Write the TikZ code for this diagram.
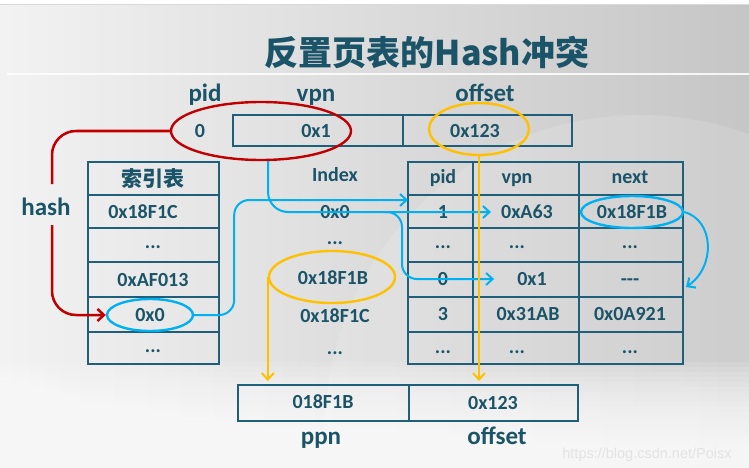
\documentclass[tikz,border=0pt]{standalone}
\usepackage{fontspec}
\setmainfont{Carlito}
\setsansfont{Liberation Sans}
\newfontfamily\cjk{Noto Sans CJK SC}
\usetikzlibrary{shapes.geometric,arrows.meta,calc}
\definecolor{textc}{HTML}{1B5468}
\definecolor{linec}{HTML}{1F5F7A}
\definecolor{redc}{HTML}{C00000}
\definecolor{bluec}{HTML}{00B0F0}
\definecolor{yellc}{HTML}{FFC000}
\begin{document}
\begin{tikzpicture}[x=1pt,y=-1pt,
  val/.style={font=\bfseries\fontsize{20}{24}\selectfont, text=textc, inner sep=0pt, text height=13pt, text depth=0pt},
  big/.style={font=\bfseries\fontsize{25}{30}\selectfont, text=textc, inner sep=0pt, text height=16pt, text depth=0pt},
  cjkval/.style={font=\cjk\bfseries\fontsize{21}{24}\selectfont, text=textc, inner sep=0pt},
  grid/.style={draw=linec, line width=2.2pt},
  ring/.style={ellipse, draw, line width=2.4pt, inner sep=0pt},
  redline/.style={draw=redc, line width=2.5pt},
  blueline/.style={draw=bluec, line width=2pt},
  yellline/.style={draw=yellc, line width=2pt},
  tip/.style={-{Straight Barb[length=6.5pt,width=12pt]}}
]
\useasboundingbox (0,0) rectangle (749,468);
% ---------- background ----------
\fill[white] (0,0) rectangle (749,468);
\shade[left color=gray!10, right color=gray!45] (0,6) rectangle (749,468);
\fill[white, opacity=0.14] (640,430) circle (315);
\foreach \i in {0,...,17}{
  \fill[white, opacity=0.11] (0,{362+\i*5}) rectangle (749,468);
}
\draw[gray!30, line width=1pt] (0,5) -- (749,5);
\draw[white, opacity=0.85, line width=1.5pt] (7,74) -- (749,74);
% ---------- title ----------
\node[font=\cjk\bfseries\fontsize{34}{38}\selectfont, text=textc, inner sep=0pt] (title) at (427,52) {反置页表的Hash冲突};
% ---------- top address ----------
\node[big] (lpid) at (205,94) {pid};
\node[big] (lvpn) at (316,94) {vpn};
\node[big] (loff) at (485,94) {offset};
\draw[grid] (233,115) rectangle (572,146);
\draw[grid] (403,115) -- (403,146);
% ---------- index table grid ----------
\draw[grid] (88,162) rectangle (219,364);
\foreach \y in {195,228,262,297,332}{\draw[grid] (88,\y) -- (219,\y);}
% ---------- inverted table grid ----------
\draw[grid] (408,162) rectangle (683,364);
\foreach \y in {195,228,262,297,332}{\draw[grid] (408,\y) -- (683,\y);}
\draw[grid] (473,162) -- (473,364);
\draw[grid] (579,162) -- (579,364);
% ---------- bottom address ----------
\draw[grid] (238,385) rectangle (578,421);
\draw[grid] (409,385) -- (409,421);
% ---------- ellipses ----------
\node[ring, draw=redc, minimum width=180pt, minimum height=58pt] (redell) at (261,131) {};
\node[ring, draw=yellc, minimum width=100pt, minimum height=52pt] (yellT) at (479,129) {};
\node[ring, draw=bluec, minimum width=86pt, minimum height=32pt] (blueI) at (150,315) {};
\node[ring, draw=bluec, minimum width=102pt, minimum height=32pt] (blueN) at (632,212) {};
\node[ring, draw=yellc, minimum width=126pt, minimum height=52pt] (yellI) at (332,277) {};
% ---------- texts ----------
\node[val] (t0) at (200,131) {0};
\node[val] (t1) at (316,131) {0x1};
\node[val] (t2) at (475,131) {0x123};
\node[big] (hash) at (46,207) {hash};
% index table
\node[cjkval] (it0) at (153,178.5) {索引表};
\node[val] (it1) at (143,211.5) {0x18F1C};
\node[val] (it2) at (153,242) {...};
\node[val] (it3) at (153,279.5) {0xAF013};
\node[val] (it4) at (150,315) {0x0};
\node[val] (it5) at (153,346) {...};
% index column
\node[val] (ix0) at (335,175) {Index};
\node[val] (ix1) at (335,212) {0x0};
\node[val] (ix2) at (335,238) {...};
\node[val] (ix3) at (333,278) {0x18F1B};
\node[val] (ix4) at (335,316) {0x18F1C};
\node[val] (ix5) at (335,348) {...};
% inverted table
\node[val] (ph) at (443,177) {pid};
\node[val] (vh) at (517,177) {vpn};
\node[val] (nh) at (630,177) {next};
\node[val] (p1) at (443,212) {1};
\node[val] (v1) at (527,212) {0xA63};
\node[val] (n1) at (632,212) {0x18F1B};
\node[val] (p2) at (443,242) {...};
\node[val] (v2) at (517,242) {...};
\node[val] (n2) at (630,242) {...};
\node[val] (p3) at (443,279) {0};
\node[val] (v3) at (532,279) {0x1};
\node[val] (n3) at (630,279) {-{}-{}-};
\node[val] (p4) at (443,314) {3};
\node[val] (v4) at (528,314) {0x31AB};
\node[val] (n4) at (630,314) {0x0A921};
\node[val] (p5) at (443,347) {...};
\node[val] (v5) at (517,347) {...};
\node[val] (n5) at (630,347) {...};
% bottom
\node[val] (b1) at (323,402) {018F1B};
\node[val] (b2) at (493,403) {0x123};
\node[big] (lppn) at (321,436) {ppn};
\node[big] (loff2) at (497,436) {offset};
% watermark
\node[font=\sffamily\fontsize{14.5}{16}\selectfont, text=gray!22, inner sep=0pt] (wm) at (647,455) {https://blog.csdn.net/Poisx};
% ---------- coordinates ----------
\coordinate (hashtop) at (52,184);
\coordinate (hashbot) at (52,225);
\coordinate (rowA) at (408,200);
\coordinate (brch) at (385,212);
\coordinate (nextarr) at (686,287);
\coordinate (bboxtop) at (238,381);
% ---------- connectors ----------
\draw[redline, rounded corners=24pt] (redell.west) -| (hashtop);
\draw[redline, rounded corners=24pt, tip] (hashbot) |- (blueI.west);
\draw[blueline, rounded corners=15pt, tip] (blueI.east) -- ++(40,0) |- (rowA);
\draw[blueline, rounded corners=20pt, tip] ([xshift=7pt]redell.south) |- ([xshift=-10pt]v1.west);
\draw[blueline, rounded corners=15pt, tip] (brch) -- ++(17,0) |- ([xshift=-23pt]v3.west);
\draw[blueline, tip] (blueN.east) .. controls +(30,8) and +(30,-20) .. (nextarr);
\draw[yellline, tip] (yellT.south) -- (yellT.south |- bboxtop);
\draw[yellline, tip] (yellI.west) -- (yellI.west |- bboxtop);
\end{tikzpicture}
\end{document}
